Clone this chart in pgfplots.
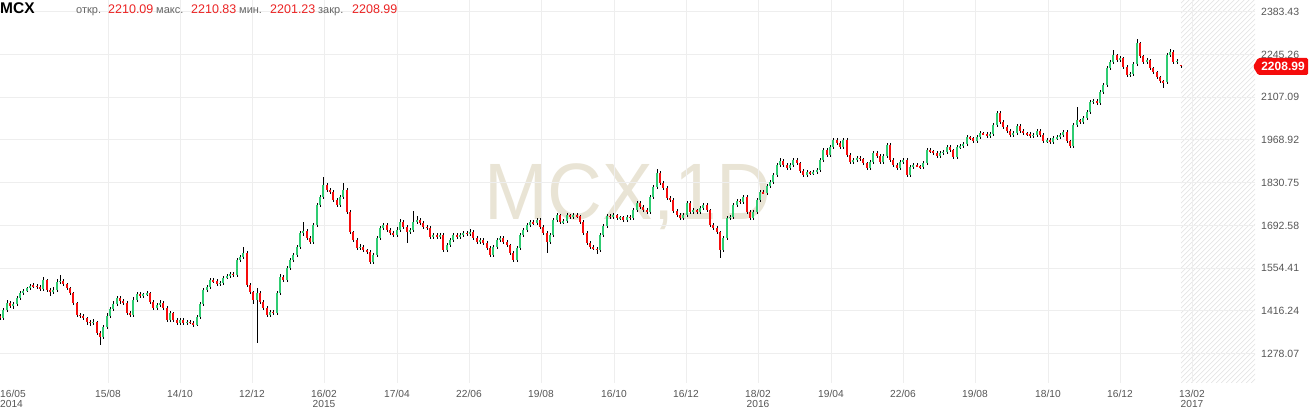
\documentclass[border=0pt]{standalone}
\usepackage{pgfplots}
\pgfplotsset{compat=1.18}
\usepackage{pgfplotstable}
\usepackage{fontspec}
\setmainfont{Liberation Sans}
\usepackage{graphicx}
\definecolor{cgreen}{RGB}{46,204,113}
\definecolor{cred}{RGB}{245,12,12}
\definecolor{gridc}{RGB}{238,238,238}
\definecolor{lblgray}{RGB}{85,85,85}
\definecolor{hdrgray}{RGB}{102,102,102}
\definecolor{hdrred}{RGB}{235,35,35}
\definecolor{wmark}{RGB}{233,228,213}
\definecolor{hatchc}{RGB}{228,228,228}

\pgfplotstableread{
x o h l c
0 1400 1406 1388 1393
3 1393 1425 1388 1419
7 1419 1450 1414 1442
10 1442 1447 1426 1432
13 1432 1445 1424 1439
17 1439 1464 1433 1458
20 1458 1480 1452 1474
23 1474 1488 1468 1481
27 1481 1495 1477 1490
30 1490 1503 1484 1497
33 1499 1506 1489 1497
37 1497 1502 1486 1494
40 1494 1500 1480 1487
43 1487 1525 1482 1516
47 1516 1520 1478 1484
50 1484 1489 1466 1477
53 1477 1492 1470 1484
57 1484 1518 1479 1510
60 1510 1531 1504 1513
63 1513 1519 1497 1503
67 1503 1508 1484 1490
70 1490 1495 1468 1474
73 1474 1478 1436 1442
77 1442 1446 1396 1403
80 1403 1410 1392 1400
83 1400 1405 1386 1393
87 1393 1398 1372 1381
90 1381 1388 1369 1377
93 1377 1390 1371 1381
97 1381 1385 1338 1345
100 1345 1350 1306 1332
103 1332 1370 1326 1364
107 1364 1408 1359 1400
110 1400 1430 1394 1423
113 1423 1447 1417 1439
117 1439 1466 1433 1458
120 1458 1463 1440 1448
123 1448 1455 1434 1442
127 1442 1447 1403 1410
130 1410 1415 1396 1403
133 1403 1460 1398 1452
137 1452 1478 1446 1471
140 1471 1476 1458 1465
143 1465 1474 1458 1470
147 1470 1481 1464 1474
150 1474 1479 1438 1445
153 1445 1450 1419 1426
157 1426 1442 1420 1435
160 1435 1450 1429 1442
163 1442 1447 1419 1426
167 1426 1431 1380 1387
170 1387 1417 1381 1410
173 1410 1414 1380 1387
177 1387 1393 1370 1377
180 1377 1394 1371 1387
183 1387 1392 1370 1377
187 1377 1388 1372 1381
190 1381 1386 1373 1378
193 1378 1383 1364 1371
197 1371 1404 1366 1397
200 1397 1446 1391 1439
203 1439 1490 1433 1484
207 1484 1501 1478 1494
210 1494 1523 1488 1516
213 1516 1524 1508 1512
217 1512 1518 1497 1503
220 1503 1514 1498 1507
223 1507 1530 1501 1523
227 1523 1536 1518 1529
230 1529 1542 1523 1536
233 1536 1541 1526 1532
237 1532 1588 1527 1581
240 1581 1598 1575 1591
243 1591 1623 1585 1604
247 1604 1609 1494 1500
250 1500 1506 1470 1477
253 1477 1482 1440 1452
257 1452 1490 1313 1474
260 1474 1480 1438 1445
263 1445 1450 1419 1426
267 1426 1432 1396 1403
270 1403 1420 1397 1413
273 1413 1418 1402 1410
277 1410 1481 1404 1474
280 1474 1534 1468 1526
283 1526 1531 1509 1516
287 1516 1562 1510 1555
290 1555 1588 1549 1581
293 1581 1604 1575 1597
297 1597 1630 1591 1623
300 1623 1676 1617 1668
303 1668 1704 1660 1673
307 1673 1680 1645 1652
310 1652 1658 1632 1639
313 1639 1700 1633 1694
317 1694 1766 1688 1759
320 1759 1792 1752 1785
323 1785 1849 1779 1823
327 1823 1830 1800 1807
330 1807 1815 1794 1801
333 1801 1806 1768 1775
337 1775 1781 1752 1759
340 1759 1792 1753 1785
343 1785 1830 1779 1807
347 1807 1812 1729 1736
350 1736 1741 1664 1671
353 1671 1676 1639 1646
357 1646 1652 1612 1620
360 1620 1634 1614 1623
363 1623 1628 1606 1613
367 1613 1618 1600 1607
370 1607 1612 1568 1574
373 1574 1604 1568 1597
377 1597 1659 1591 1652
380 1652 1692 1646 1684
383 1684 1701 1678 1694
387 1694 1699 1671 1678
390 1678 1684 1661 1668
393 1668 1674 1655 1662
397 1662 1686 1656 1678
400 1678 1712 1672 1704
403 1704 1709 1682 1688
407 1688 1694 1636 1671
410 1671 1685 1665 1678
413 1678 1738 1672 1704
417 1704 1722 1698 1710
420 1710 1715 1694 1700
423 1700 1706 1681 1688
427 1688 1694 1677 1684
430 1684 1690 1648 1655
433 1655 1669 1649 1662
437 1662 1667 1648 1655
440 1655 1669 1649 1662
443 1662 1668 1606 1613
447 1613 1636 1607 1629
450 1629 1653 1623 1646
453 1646 1669 1640 1662
457 1662 1668 1648 1655
460 1655 1669 1649 1662
463 1662 1675 1656 1668
467 1668 1673 1660 1665
470 1665 1680 1659 1671
473 1671 1677 1645 1652
477 1652 1658 1632 1639
480 1639 1653 1633 1646
483 1646 1651 1629 1636
487 1636 1642 1613 1620
490 1620 1625 1590 1597
493 1597 1630 1591 1623
497 1623 1653 1617 1646
500 1646 1659 1640 1652
503 1652 1657 1632 1639
507 1639 1645 1622 1629
510 1629 1634 1597 1604
513 1604 1609 1574 1581
517 1581 1627 1575 1620
520 1620 1669 1614 1662
523 1662 1685 1656 1678
527 1678 1701 1672 1694
530 1694 1711 1688 1704
533 1704 1709 1694 1700
537 1700 1717 1694 1710
540 1710 1715 1681 1688
543 1688 1694 1661 1668
547 1668 1673 1604 1639
550 1639 1669 1633 1662
553 1662 1717 1656 1710
557 1710 1733 1704 1726
560 1726 1731 1697 1704
563 1704 1712 1698 1706
567 1706 1733 1700 1726
570 1726 1731 1713 1720
573 1720 1733 1714 1726
577 1726 1732 1718 1722
580 1722 1727 1697 1704
583 1704 1709 1661 1668
587 1668 1673 1629 1636
590 1636 1642 1616 1623
593 1623 1630 1612 1618
597 1618 1624 1600 1613
600 1613 1669 1607 1662
603 1662 1698 1656 1691
607 1691 1730 1685 1723
610 1723 1728 1713 1720
613 1720 1733 1714 1726
617 1726 1731 1710 1717
620 1717 1724 1709 1719
623 1719 1724 1703 1710
627 1710 1727 1704 1720
630 1720 1726 1710 1717
633 1717 1749 1711 1742
637 1742 1772 1736 1765
640 1765 1770 1745 1752
643 1752 1758 1735 1742
647 1742 1748 1729 1736
650 1736 1792 1730 1785
653 1785 1824 1779 1817
657 1817 1875 1811 1862
660 1862 1868 1823 1830
663 1830 1836 1807 1814
667 1814 1820 1774 1781
670 1781 1787 1768 1775
673 1775 1780 1732 1739
677 1739 1745 1719 1726
680 1726 1732 1710 1717
683 1717 1733 1711 1726
687 1726 1772 1720 1765
690 1765 1770 1729 1736
693 1736 1749 1730 1742
697 1742 1747 1729 1736
700 1736 1756 1730 1749
703 1749 1766 1743 1759
707 1759 1764 1735 1742
710 1742 1747 1687 1694
713 1694 1700 1677 1684
717 1684 1690 1664 1671
720 1671 1676 1587 1613
723 1613 1659 1607 1652
727 1652 1724 1646 1717
730 1717 1727 1711 1720
733 1720 1766 1714 1759
737 1759 1779 1753 1772
740 1772 1777 1761 1768
743 1768 1792 1762 1785
747 1785 1790 1729 1736
750 1736 1741 1710 1717
753 1717 1743 1711 1736
757 1736 1782 1730 1775
760 1775 1808 1769 1801
763 1801 1808 1794 1797
767 1797 1827 1791 1820
770 1820 1840 1814 1833
773 1833 1863 1827 1856
777 1856 1895 1850 1888
780 1888 1910 1882 1901
783 1901 1906 1881 1888
787 1888 1893 1871 1878
790 1878 1895 1872 1888
793 1888 1911 1882 1904
797 1904 1909 1887 1894
800 1894 1899 1862 1869
803 1869 1874 1849 1856
807 1856 1872 1850 1865
810 1865 1870 1855 1862
813 1862 1872 1856 1865
817 1865 1879 1859 1872
820 1872 1911 1866 1904
823 1904 1943 1898 1936
827 1936 1942 1913 1920
830 1920 1953 1914 1946
833 1946 1976 1940 1969
837 1969 1974 1952 1959
840 1959 1964 1940 1946
843 1946 1976 1940 1969
847 1969 1974 1913 1920
850 1920 1926 1891 1898
853 1898 1911 1892 1904
857 1904 1918 1898 1911
860 1911 1916 1900 1907
863 1907 1912 1887 1894
867 1894 1899 1871 1878
870 1878 1905 1872 1898
873 1898 1934 1892 1927
877 1927 1932 1910 1917
880 1917 1922 1891 1898
883 1898 1924 1892 1917
887 1917 1960 1911 1953
890 1953 1958 1897 1904
893 1904 1909 1881 1888
897 1888 1893 1871 1878
900 1878 1905 1872 1898
903 1898 1911 1892 1904
907 1904 1909 1849 1856
910 1856 1888 1850 1881
913 1881 1895 1875 1888
917 1888 1894 1880 1884
920 1884 1889 1874 1881
923 1881 1901 1875 1894
927 1894 1943 1888 1936
930 1936 1942 1928 1932
933 1932 1937 1920 1927
937 1927 1932 1910 1917
940 1917 1934 1911 1927
943 1927 1937 1921 1930
947 1930 1953 1924 1946
950 1946 1951 1929 1936
953 1936 1941 1907 1914
957 1914 1953 1908 1946
960 1946 1956 1940 1949
963 1949 1963 1943 1956
967 1956 1985 1950 1978
970 1978 1983 1968 1975
973 1975 1980 1958 1965
977 1965 1985 1959 1978
980 1978 1998 1972 1991
983 1991 1996 1984 1988
987 1988 1993 1975 1982
990 1982 1995 1976 1988
993 1988 2024 1982 2017
997 2017 2063 2011 2056
1000 2056 2061 2020 2027
1003 2027 2032 2004 2011
1007 2011 2016 1991 1998
1010 1998 2003 1978 1985
1013 1985 1998 1979 1991
1017 1991 2021 1985 2014
1020 2014 2019 1991 1998
1023 1998 2003 1984 1991
1027 1991 1996 1981 1988
1030 1988 1993 1975 1982
1033 1982 1992 1976 1985
1037 1985 2005 1979 1998
1040 1998 2003 1978 1985
1043 1985 1990 1958 1965
1047 1965 1976 1959 1969
1050 1969 1974 1955 1962
1053 1962 1982 1956 1975
1057 1975 1985 1969 1978
1060 1978 1992 1972 1985
1063 1985 2002 1979 1995
1067 1995 2000 1958 1965
1070 1965 1970 1942 1949
1073 1949 2024 1943 2017
1077 2017 2075 2011 2033
1080 2033 2038 2020 2027
1083 2027 2047 2021 2040
1087 2040 2066 2034 2059
1090 2059 2099 2053 2092
1093 2092 2102 2086 2095
1097 2095 2100 2081 2088
1100 2088 2131 2082 2124
1103 2124 2153 2118 2146
1107 2146 2208 2140 2201
1110 2201 2228 2195 2221
1113 2221 2260 2215 2243
1117 2243 2248 2220 2227
1120 2227 2240 2221 2233
1123 2233 2238 2198 2205
1127 2205 2210 2172 2179
1130 2179 2189 2173 2182
1133 2182 2221 2176 2214
1137 2214 2295 2208 2282
1140 2282 2287 2233 2240
1143 2240 2245 2214 2221
1147 2221 2234 2215 2227
1150 2227 2232 2194 2201
1153 2201 2206 2181 2188
1157 2188 2193 2165 2172
1160 2172 2177 2152 2159
1163 2159 2164 2137 2156
1167 2156 2250 2150 2243
1170 2243 2262 2237 2253
1173 2253 2258 2214 2221
1177 2221 2231 2215 2224
1181 2210.09 2210.83 2201.23 2208.99
}\mcxdata

\begin{document}
\begin{tikzpicture}[x=1pt,y=1pt]
\useasboundingbox (0pt,0pt) rectangle (1310pt,412pt);
% watermark
\node[anchor=base west, inner sep=0pt, text=wmark] at (484pt,192pt)
  {\scalebox{0.95}[1]{\fontsize{80}{80}\selectfont MCX,1D}};
% hatched future area
\begin{scope}
\clip (1181pt,29pt) rectangle (1255pt,412pt);
\foreach \i in {-400,-395,...,80} {
  \draw[hatchc, line width=0.7pt] (1181pt+\i pt,29pt) -- ++(390pt,390pt);
}
\end{scope}
\begin{axis}[
  at={(0pt,29pt)}, anchor=south west,
  scale only axis, width=1255pt, height=383pt,
  xmin=0, xmax=1255, ymin=1183.3, ymax=2421.2,
  axis line style={draw=none},
  major tick length=0pt,
  grid=major,
  grid style={draw=gridc, line width=1pt},
  ytick={1278.07,1416.24,1554.41,1692.58,1830.75,1968.92,2107.09,2245.26,2383.43},
  yticklabels={1278.07,1416.24,1554.41,1692.58,1830.75,1968.92,2107.09,2245.26,2383.43},
  yticklabel pos=right,
  yticklabel style={anchor=west, inner sep=0pt, xshift=6pt, text=lblgray,
    font=\fontsize{10.5}{12}\selectfont},
  xtick={108,180,252,324,397,469,541,614,686,758,831,903,975,1048,1120,1192},
  xticklabels={15/08,14/10,12/12,{16/02\\2015},17/04,22/06,19/08,16/10,16/12,{18/02\\2016},19/04,22/06,19/08,18/10,16/12,{13/02\\2017}},
  xticklabel style={anchor=north, inner sep=0pt, yshift=-7pt, align=center,
    text=lblgray, font=\fontsize{10.2}{10}\selectfont},
]
% wicks
\addplot[draw=none, mark=none, forget plot,
  error bars/.cd, y dir=both, y explicit, error mark=none,
  error bar style={draw=black, line width=1pt, solid}]
  table[x=x, y expr={(\thisrow{h}+\thisrow{l})/2}, y error expr={(\thisrow{h}-\thisrow{l})/2}] {\mcxdata};
% up bodies
\addplot[draw=none, mark=none, forget plot,
  y filter/.expression={\thisrow{c}<\thisrow{o} ? nan : y},
  error bars/.cd, y dir=both, y explicit, error mark=none,
  error bar style={draw=cgreen, line width=2.8pt, solid}]
  table[x=x, y expr={(\thisrow{o}+\thisrow{c})/2}, y error expr={abs(\thisrow{c}-\thisrow{o})/2}] {\mcxdata};
% down bodies
\addplot[draw=none, mark=none, forget plot,
  y filter/.expression={\thisrow{c}<\thisrow{o} ? y : nan},
  error bars/.cd, y dir=both, y explicit, error mark=none,
  error bar style={draw=cred, line width=2.8pt, solid}]
  table[x=x, y expr={(\thisrow{o}+\thisrow{c})/2}, y error expr={abs(\thisrow{c}-\thisrow{o})/2}] {\mcxdata};
\end{axis}
% first date label
\node[anchor=north west, inner sep=0pt, align=left, text=lblgray,
  font=\fontsize{10.2}{10}\selectfont] at (0pt,22pt) {16/05\\2014};
% header
\node[anchor=base west, inner sep=0pt] at (0pt,398pt) {\fontsize{15.5}{15.5}\selectfont\bfseries MCX};
\node[anchor=base west, inner sep=0pt, text=hdrgray] at (76pt,398pt) {\fontsize{11}{11}\selectfont откр.};
\node[anchor=base west, inner sep=0pt, text=hdrred] at (108pt,398pt) {\fontsize{12.5}{12.5}\selectfont 2210.09};
\node[anchor=base west, inner sep=0pt, text=hdrgray] at (156pt,398pt) {\fontsize{11}{11}\selectfont макс.};
\node[anchor=base west, inner sep=0pt, text=hdrred] at (191pt,398pt) {\fontsize{12.5}{12.5}\selectfont 2210.83};
\node[anchor=base west, inner sep=0pt, text=hdrgray] at (239pt,398pt) {\fontsize{11}{11}\selectfont мин.};
\node[anchor=base west, inner sep=0pt, text=hdrred] at (270pt,398pt) {\fontsize{12.5}{12.5}\selectfont 2201.23};
\node[anchor=base west, inner sep=0pt, text=hdrgray] at (318pt,398pt) {\fontsize{11}{11}\selectfont закр.};
\node[anchor=base west, inner sep=0pt, text=hdrred] at (352pt,398pt) {\fontsize{12.5}{12.5}\selectfont 2208.99};
% last price tag
\fill[cred, rounded corners=1.5pt] (1253pt,345.5pt) -- (1258pt,354pt) -- (1308pt,354pt) -- (1308pt,337pt) -- (1258pt,337pt) -- cycle;
\node[text=white, inner sep=0pt] at (1283pt,345.5pt) {\fontsize{12}{12}\selectfont\bfseries 2208.99};
\end{tikzpicture}
\end{document}
